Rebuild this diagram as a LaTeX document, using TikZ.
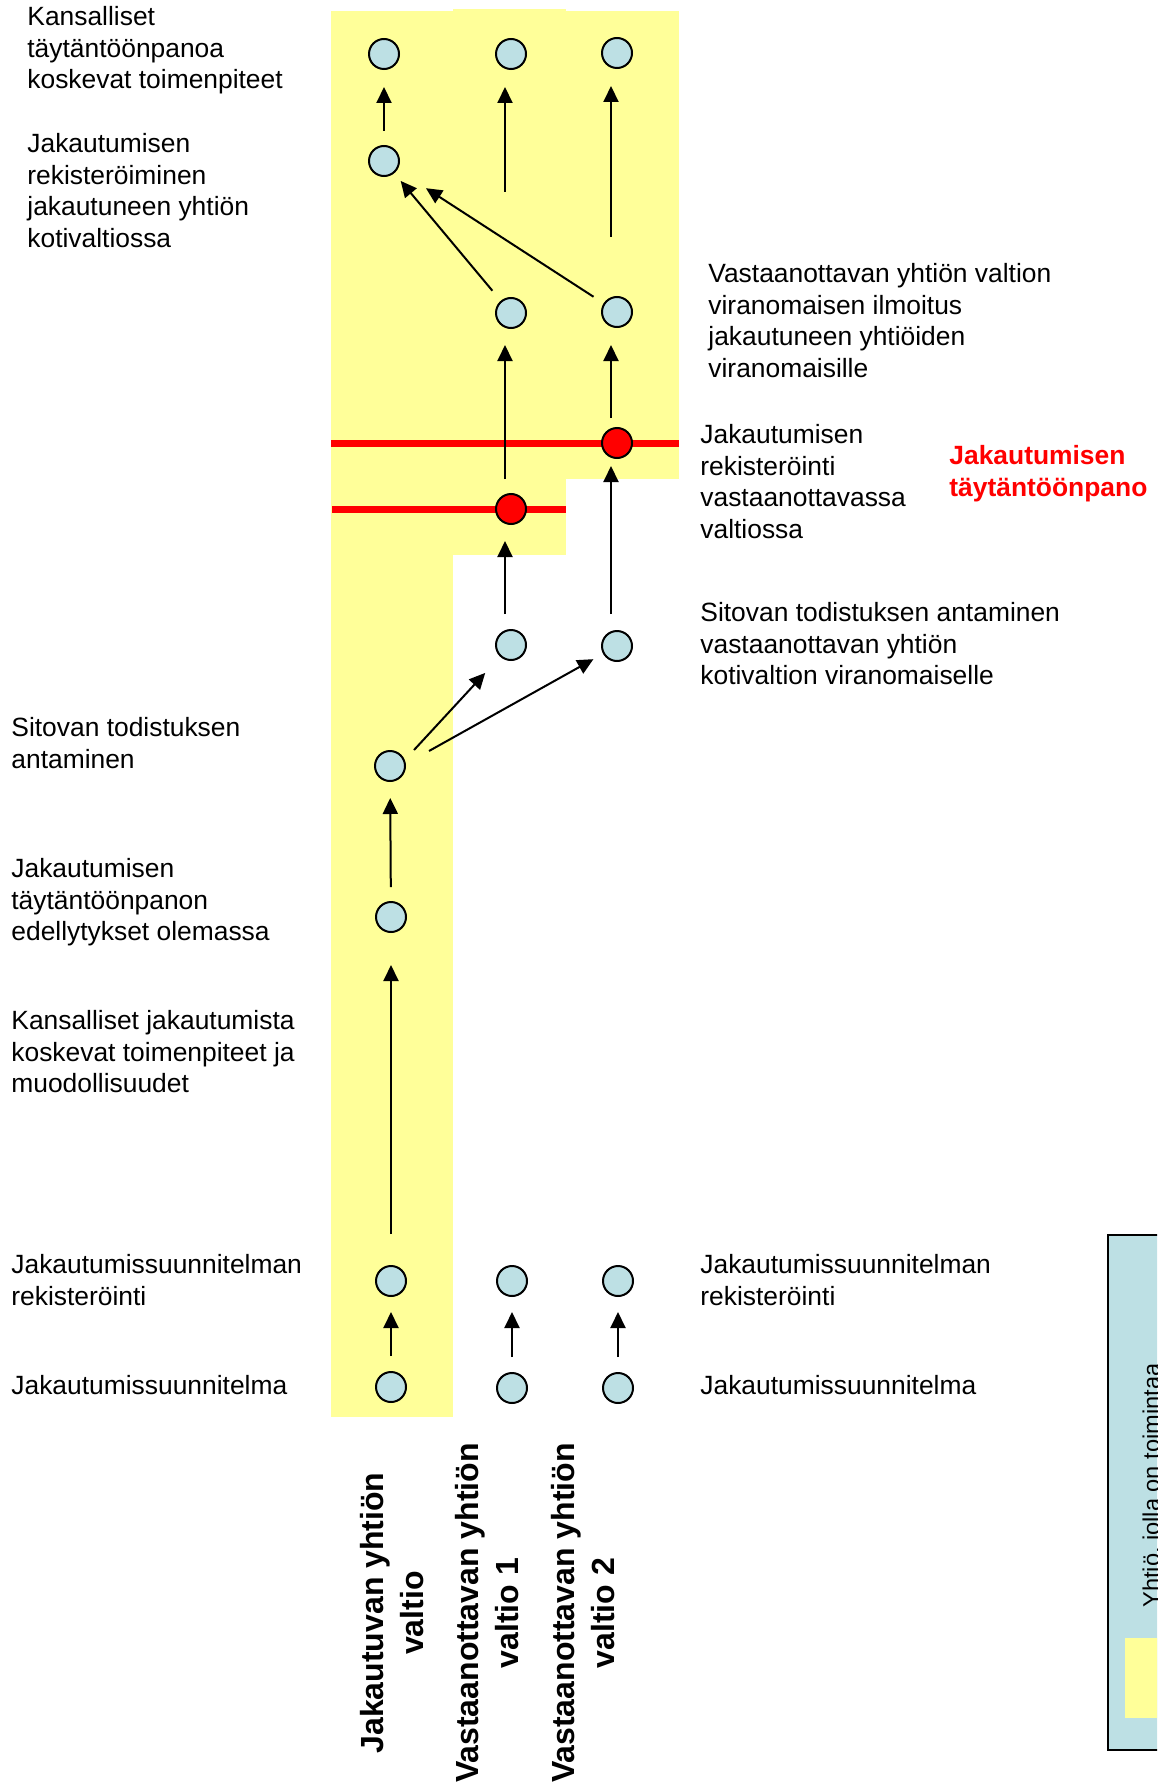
\documentclass[tikz,border=0pt]{standalone}
\usepackage{fontspec}
\setmainfont{Liberation Sans}
\usetikzlibrary{arrows.meta}

\definecolor{paleyellow}{RGB}{255,255,153}
\definecolor{dotblue}{RGB}{189,224,228}

\tikzset{
  dot/.style={circle, draw, line width=1pt, fill=dotblue, minimum size=15pt, inner sep=0pt},
  reddot/.style={dot, fill=red},
  arr/.style={-{Triangle[length=8pt,width=7.5pt]}, line width=1pt},
  gap/.style 2 args={shorten <=#1, shorten >=#2},
  txt/.style={anchor=north west, inner sep=0pt, align=left, font=\fontsize{13.2}{15.8}\selectfont},
  redtxt/.style={txt, text=red, font=\fontsize{13.2}{15.8}\selectfont\bfseries},
  collabel/.style={rotate=90, align=center, inner sep=0pt, font=\fontsize{16}{20}\selectfont\bfseries},
  redline/.style={red, line width=3.5pt}
}

\begin{document}
\begin{tikzpicture}[x=0.5pt, y=-0.5pt]
\useasboundingbox (0,0) rectangle (1157,1787);
\clip (0,0) rectangle (1157,1787);

% yellow columns of the three states
\fill[paleyellow] (331,11) rectangle (453,1417);
\fill[paleyellow] (453,9) rectangle (566,555);
\fill[paleyellow] (566,11) rectangle (679,479);
%
\draw[redline] (331,443) -- (679,443);
\draw[redline] (332,509) -- (566,509);

% dots, top to bottom
\node[dot] (t1) at (384,54) {};
\node[dot] (t2) at (511,54) {};
\node[dot] (t3) at (617,53) {};
\node[dot] (r1) at (384,161) {};
\node[dot] (v2) at (511,313) {};
\node[dot] (v3) at (617,312) {};
\node[reddot] (red3) at (617,443) {};
\node[reddot] (red2) at (511,509) {};
\node[dot] (s2) at (511,645) {};
\node[dot] (s3) at (617,646) {};
\node[dot] (s1) at (390,766) {};
\node[dot] (e1) at (391,917) {};
\node[dot] (p1) at (391,1281) {};
\node[dot] (p2) at (512,1281) {};
\node[dot] (p3) at (618,1281) {};
\node[dot] (q1) at (391,1387) {};
\node[dot] (q2) at (512,1388) {};
\node[dot] (q3) at (618,1388) {};
\coordinate (f2) at (505,192);
\coordinate (f3) at (611,237);

% arrows
\draw[arr, gap={7.5pt}{7.5pt}] (q1) -- (p1);
\draw[arr, gap={7.5pt}{7.5pt}] (q2) -- (p2);
\draw[arr, gap={7.5pt}{7.5pt}] (q3) -- (p3);
\draw[arr, gap={15.5pt}{16pt}] (p1) -- (e1);
\draw[arr, gap={7pt}{8pt}] (e1) -- (s1);
\draw[arr, shorten >=11pt] ([xshift=12pt,yshift=8pt]s1.center) -- (s2);
\draw[arr, shorten >=5.5pt] ([xshift=19.5pt,yshift=7.5pt]s1.center) -- (s3);
\draw[arr, gap={7.5pt}{8pt}] ([xshift=-3pt]s2.north) -- ([xshift=-3pt]red2.south);
\draw[arr, gap={8pt}{3.5pt}] ([xshift=-3pt]s3.north) -- ([xshift=-3pt]red3.south);
\draw[arr, gap={7pt}{8pt}] ([xshift=-3pt]red2.north) -- ([xshift=-3pt]v2.south);
\draw[arr, gap={4.5pt}{8.5pt}] ([xshift=-3pt]red3.north) -- ([xshift=-3pt]v3.south);
\draw[arr, gap={6.5pt}{5pt}] (v2) -- (r1);
\draw[arr, gap={6pt}{17pt}] (v3) -- (r1);
\draw[arr, gap={7pt}{8.5pt}] (r1) -- (t1);
\draw[arr, shorten >=8.5pt] (f2) -- ([xshift=-3pt]t2.south);
\draw[arr, shorten >=8.5pt] (f3) -- ([xshift=-3pt]t3.south);

% left texts
\node[txt] (l1) at (27,6) {Kansalliset\\täytäntöönpanoa\\koskevat toimenpiteet};
\node[txt] (l2) at (27,133) {Jakautumisen\\rekisteröiminen\\jakautuneen yhtiön\\kotivaltiossa};
\node[txt] (l3) at (11,717) {Sitovan todistuksen\\antaminen};
\node[txt] (l4) at (11,858) {Jakautumisen\\täytäntöönpanon\\edellytykset olemassa};
\node[txt] (l5) at (11,1010) {Kansalliset jakautumista\\koskevat toimenpiteet ja\\muodollisuudet};
\node[txt] (l6) at (11,1254) {Jakautumissuunnitelman\\rekisteröinti};
\node[txt] (l7) at (11,1375) {Jakautumissuunnitelma};

% right texts
\node[txt] (m1) at (708,263) {Vastaanottavan yhtiön valtion\\viranomaisen ilmoitus\\jakautuneen yhtiöiden\\viranomaisille};
\node[txt] (m2) at (700,424) {Jakautumisen\\rekisteröinti\\vastaanottavassa\\valtiossa};
\node[redtxt] (m3) at (949,445) {Jakautumisen\\täytäntöönpano};
\node[txt] (m4) at (700,602) {Sitovan todistuksen antaminen\\vastaanottavan yhtiön\\kotivaltion viranomaiselle};
\node[txt] (m5) at (700,1254) {Jakautumissuunnitelman\\rekisteröinti};
\node[txt] (m6) at (700,1375) {Jakautumissuunnitelma};

% column labels
\node[collabel] (c1) at (392,1613) {Jakautuvan yhtiön\\valtio};
\node[collabel] (c2) at (487,1613) {Vastaanottavan yhtiön\\valtio 1};
\node[collabel] (c3) at (583,1613) {Vastaanottavan yhtiön\\valtio 2};

% legend (cut by the page edge)
\draw[fill=dotblue, line width=1pt] (1108,1235) rectangle (1220,1750);
\fill[paleyellow] (1125,1638) rectangle (1220,1718);
\node[rotate=90, anchor=north west, inner sep=0pt, font=\fontsize{11.8}{14}\selectfont] (leg) at (1142,1608) {Yhtiö, jolla on toimintaa};
\end{tikzpicture}
\end{document}
